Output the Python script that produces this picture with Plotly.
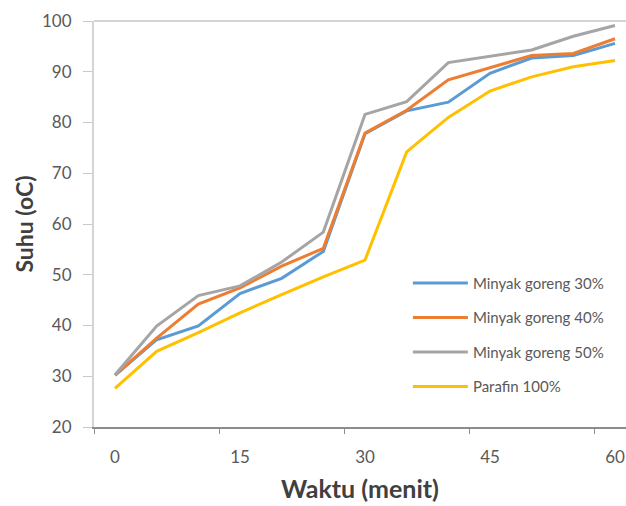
import plotly.graph_objects as go

waktu = [0, 5, 10, 15, 20, 25, 30, 35, 40, 45, 50, 55, 60]
minyak_30 = [30.2, 37.2, 39.9, 46.3, 49.3, 54.6, 77.8, 82.3, 84.0, 89.7, 92.7, 93.2, 95.6]
minyak_40 = [30.2, 37.5, 44.2, 47.4, 51.7, 55.2, 77.9, 82.4, 88.4, 90.8, 93.2, 93.6, 96.5]
minyak_50 = [30.3, 39.9, 45.9, 47.8, 52.5, 58.4, 81.6, 84.1, 91.8, 93.0, 94.3, 97.0, 99.1]
parafin_100 = [27.6, 34.9, 38.6, 42.5, 46.1, 49.6, 52.9, 74.2, 81.0, 86.2, 89.0, 91.0, 92.2]

series_names = ["Minyak goreng 30%", "Minyak goreng 40%", "Minyak goreng 50%", "Parafin 100%"]
series_values = [minyak_30, minyak_40, minyak_50, parafin_100]
series_colors = ["#5B9BD5", "#ED7D31", "#A5A5A5", "#FFC000"]

x_tick_vals = [0, 15, 30, 45, 60]
x_tick_text = ["0", "15", "30", "45", "60"]
x_minor_ticks = [-2.5, 12.5, 27.5, 42.5, 57.5]
y_tick_vals = [20, 30, 40, 50, 60, 70, 80, 90, 100]

fig = go.Figure()
for i, (name, vals, col) in enumerate(zip(series_names, series_values, series_colors)):
    fig.add_trace(go.Scatter(
        x=waktu, y=vals, name=name, mode="lines",
        line=dict(color=col, width=3),
        legendgroup=f"g{i}",
    ))

font_family = "Lato, Carlito, Calibri, sans-serif"

fig.update_layout(
    width=626, height=506,
    margin=dict(l=94, r=0, t=21, b=79),
    paper_bgcolor="white", plot_bgcolor="white",
    font=dict(family=font_family, color="#595959", size=17),
    showlegend=True,
    legend=dict(
        x=0.59, y=0.395, xanchor="left", yanchor="top",
        bgcolor="rgba(0,0,0,0)",
        font=dict(size=15, color="#595959", family=font_family),
        tracegroupgap=12,
        itemwidth=55,
    ),
    xaxis=dict(
        range=[-2.52, 61.32],
        tickmode="array", tickvals=x_tick_vals, ticktext=x_tick_text,
        ticks="", showgrid=False, zeroline=False,
        showline=True, linecolor="#8C8C8C", linewidth=2,
        ticklabelstandoff=14,
        tickfont=dict(size=17, color="#595959"),
        minor=dict(tickmode="array", tickvals=x_minor_ticks, ticks="outside",
                   ticklen=5, tickcolor="#8C8C8C", tickwidth=1, showgrid=False),
        title=dict(text="<b>Waktu (menit)</b>", font=dict(size=25, color="#404040"), standoff=14),
    ),
    yaxis=dict(
        range=[20, 100],
        tickmode="array", tickvals=y_tick_vals,
        ticks="outside", ticklen=9, tickcolor="#C8C8C8", tickwidth=1,
        showgrid=False, zeroline=False,
        showline=True, linecolor="#D4D4D4", linewidth=2,
        ticklabelstandoff=8,
        tickfont=dict(size=17, color="#595959"),
        title=dict(text="<b>Suhu (oC)</b>", font=dict(size=23, color="#404040"), standoff=2),
    ),
    shapes=[dict(type="line", xref="paper", yref="paper", x0=0, x1=1, y0=1, y1=1,
                 line=dict(color="#D4D4D4", width=2))],
)

fig.write_html("out.html", config={"displayModeBar": False},
               post_script="document.body.style.margin='0px';document.body.style.overflow='hidden';")
